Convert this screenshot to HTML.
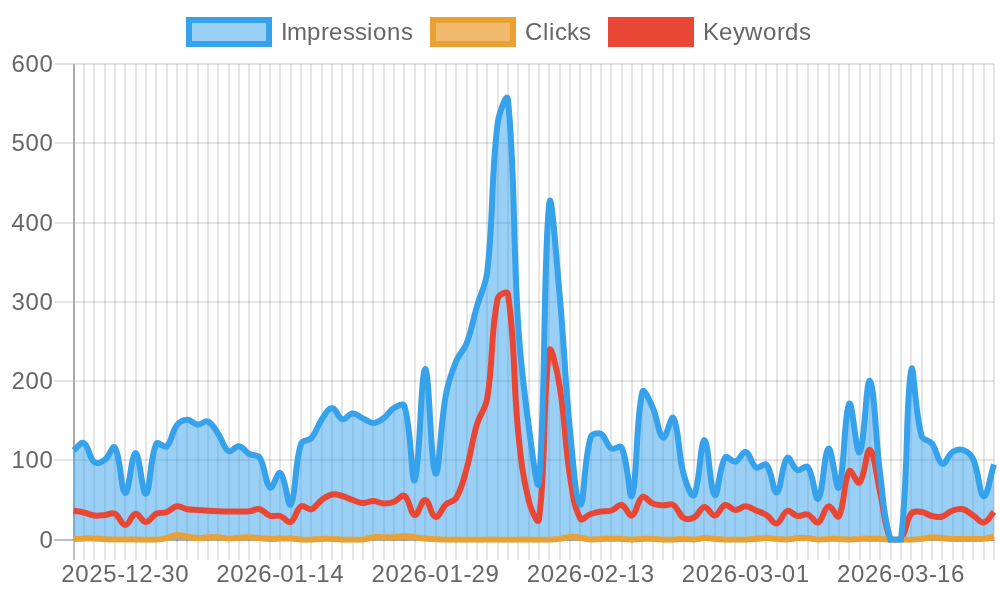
<!DOCTYPE html>
<html><head><meta charset="utf-8"><title>Chart</title>
<style>
html,body{margin:0;padding:0;background:#fff;}
body{width:1000px;height:600px;overflow:hidden;}
svg{display:block;}
svg text{font-family:"Liberation Sans",Arial,Helvetica,sans-serif;font-size:24px;fill:#666;}
</style></head><body>
<svg width="1000" height="600" viewBox="0 0 1000 600">
<rect width="1000" height="600" fill="#fff"/>
<g shape-rendering="crispEdges">
<path d="M84,64V560 M94,64V560 M105,64V560 M115,64V560 M125,64V560 M136,64V560 M146,64V560 M156,64V560 M167,64V560 M177,64V560 M187,64V560 M198,64V560 M208,64V560 M218,64V560 M229,64V560 M239,64V560 M249,64V560 M260,64V560 M270,64V560 M280,64V560 M291,64V560 M301,64V560 M311,64V560 M322,64V560 M332,64V560 M342,64V560 M353,64V560 M363,64V560 M373,64V560 M384,64V560 M394,64V560 M404,64V560 M415,64V560 M425,64V560 M436,64V560 M446,64V560 M456,64V560 M467,64V560 M477,64V560 M487,64V560 M498,64V560 M508,64V560 M518,64V560 M529,64V560 M539,64V560 M549,64V560 M560,64V560 M570,64V560 M580,64V560 M591,64V560 M601,64V560 M611,64V560 M622,64V560 M632,64V560 M642,64V560 M653,64V560 M663,64V560 M673,64V560 M684,64V560 M694,64V560 M704,64V560 M715,64V560 M725,64V560 M735,64V560 M746,64V560 M756,64V560 M766,64V560 M777,64V560 M787,64V560 M797,64V560 M808,64V560 M818,64V560 M829,64V560 M839,64V560 M849,64V560 M860,64V560 M870,64V560 M880,64V560 M891,64V560 M901,64V560 M911,64V560 M922,64V560 M932,64V560 M942,64V560 M953,64V560 M963,64V560 M973,64V560 M984,64V560 M994,64V560" stroke="rgba(0,0,0,0.1)" stroke-width="2" fill="none"/>
<path d="M84,539V541 M94,539V541 M105,539V541 M115,539V541 M125,539V541 M136,539V541 M146,539V541 M156,539V541 M167,539V541 M177,539V541 M187,539V541 M198,539V541 M208,539V541 M218,539V541 M229,539V541 M239,539V541 M249,539V541 M260,539V541 M270,539V541 M280,539V541 M291,539V541 M301,539V541 M311,539V541 M322,539V541 M332,539V541 M342,539V541 M353,539V541 M363,539V541 M373,539V541 M384,539V541 M394,539V541 M404,539V541 M415,539V541 M425,539V541 M436,539V541 M446,539V541 M456,539V541 M467,539V541 M477,539V541 M487,539V541 M498,539V541 M508,539V541 M518,539V541 M529,539V541 M539,539V541 M549,539V541 M560,539V541 M570,539V541 M580,539V541 M591,539V541 M601,539V541 M611,539V541 M622,539V541 M632,539V541 M642,539V541 M653,539V541 M663,539V541 M673,539V541 M684,539V541 M694,539V541 M704,539V541 M715,539V541 M725,539V541 M735,539V541 M746,539V541 M756,539V541 M766,539V541 M777,539V541 M787,539V541 M797,539V541 M808,539V541 M818,539V541 M829,539V541 M839,539V541 M849,539V541 M860,539V541 M870,539V541 M880,539V541 M891,539V541 M901,539V541 M911,539V541 M922,539V541 M932,539V541 M942,539V541 M953,539V541 M963,539V541 M973,539V541 M984,539V541 M994,539V541" stroke="rgba(0,0,0,0.1)" stroke-width="2" fill="none"/>
<path d="M73,540H994" stroke="rgba(0,0,0,0.1)" stroke-width="2" fill="none"/>
<path d="M74,64V560" stroke="rgba(0,0,0,0.25)" stroke-width="2" fill="none"/>
<path d="M53.52,540H73M75,540H994" stroke="rgba(0,0,0,0.25)" stroke-width="2" fill="none"/>
<path d="M53.52,460H73M75,460H994" stroke="rgba(0,0,0,0.1)" stroke-width="2" fill="none"/>
<path d="M53.52,381H73M75,381H994" stroke="rgba(0,0,0,0.1)" stroke-width="2" fill="none"/>
<path d="M53.52,302H73M75,302H994" stroke="rgba(0,0,0,0.1)" stroke-width="2" fill="none"/>
<path d="M53.52,223H73M75,223H994" stroke="rgba(0,0,0,0.1)" stroke-width="2" fill="none"/>
<path d="M53.52,143H73M75,143H994" stroke="rgba(0,0,0,0.1)" stroke-width="2" fill="none"/>
<path d="M53.52,64H73M75,64H994" stroke="rgba(0,0,0,0.1)" stroke-width="2" fill="none"/>
<path d="M74,63V541" stroke="rgba(0,0,0,0.1)" stroke-width="2" fill="none"/>
</g>
<defs>
<clipPath id="ca"><rect x="73.52" y="64.00" width="920.48" height="475.68"/></clipPath>
<clipPath id="cl"><rect x="70.52" y="61.00" width="926.48" height="481.68"/></clipPath>
</defs>
<g clip-path="url(#ca)">
<path d="M73.52,539.13C77.66,538.87 79.72,538.63 83.86,538.49C88.00,538.35 90.07,538.28 94.20,538.41C98.35,538.54 100.41,538.92 104.55,539.13C108.68,539.33 110.75,539.36 114.89,539.44C119.03,539.52 121.10,539.47 125.23,539.52C129.37,539.57 131.44,539.65 135.57,539.68C139.71,539.68 141.78,539.68 145.92,539.68C150.05,539.68 152.15,539.68 156.26,539.68C160.42,539.36 162.53,539.03 166.60,538.09C170.81,537.13 172.74,535.25 176.94,534.92C181.01,534.61 183.15,535.87 187.29,536.51C191.42,537.14 193.47,537.94 197.63,538.09C201.75,538.25 203.83,537.46 207.97,537.30C212.10,537.14 214.19,537.06 218.31,537.30C222.47,537.54 224.51,538.41 228.66,538.49C232.79,538.57 234.86,537.94 239.00,537.70C243.13,537.46 245.21,537.22 249.34,537.30C253.48,537.38 255.55,537.78 259.68,538.09C263.82,538.41 265.89,538.81 270.03,538.89C274.16,538.97 276.23,538.57 280.37,538.49C284.50,538.41 286.59,538.25 290.71,538.49C294.86,538.73 296.90,539.44 301.05,539.68C305.18,539.68 307.27,539.68 311.40,539.68C315.54,539.52 317.60,539.05 321.74,538.89C325.87,538.73 327.95,538.73 332.08,538.89C336.22,539.05 338.28,539.52 342.42,539.68C346.56,539.68 348.63,539.68 352.77,539.68C356.90,539.68 359.03,539.68 363.11,539.68C367.30,539.20 369.26,537.78 373.45,537.30C377.54,536.83 379.66,537.30 383.79,537.30C387.93,537.30 390.01,537.54 394.14,537.30C398.29,537.06 400.34,536.11 404.48,536.11C408.62,536.11 410.68,536.83 414.82,537.30C418.96,537.78 421.02,538.09 425.16,538.49C429.29,538.89 431.36,539.05 435.51,539.28C439.64,539.52 441.71,539.60 445.85,539.68C449.98,539.68 452.05,539.68 456.19,539.68C460.33,539.68 462.40,539.68 466.53,539.68C470.67,539.68 472.74,539.68 476.88,539.68C481.01,539.68 483.08,539.68 487.22,539.68C491.36,539.68 493.42,539.68 497.56,539.68C501.70,539.68 503.77,539.68 507.90,539.68C512.04,539.68 514.11,539.68 518.25,539.68C522.38,539.68 524.45,539.68 528.59,539.68C532.73,539.68 534.79,539.68 538.93,539.68C543.07,539.68 545.14,539.68 549.27,539.68C553.42,539.52 555.51,539.44 559.62,538.89C563.78,538.33 565.79,537.14 569.96,536.91C574.06,536.67 576.20,537.15 580.30,537.70C584.47,538.26 586.48,539.44 590.64,539.68C594.75,539.68 596.84,539.05 600.99,538.89C605.12,538.73 607.19,538.89 611.33,538.89C615.47,538.89 617.54,538.73 621.67,538.89C625.81,539.05 627.88,539.68 632.01,539.68C636.15,539.68 638.21,539.05 642.36,538.89C646.49,538.73 648.57,538.73 652.70,538.89C656.84,539.05 658.90,539.52 663.04,539.68C667.17,539.68 669.25,539.68 673.38,539.68C677.53,539.52 679.59,538.89 683.73,538.89C687.86,538.89 689.95,539.68 694.07,539.68C698.22,539.52 700.26,538.25 704.41,538.09C708.53,537.94 710.62,538.57 714.75,538.89C718.89,539.20 720.95,539.52 725.10,539.68C729.23,539.68 731.30,539.68 735.44,539.68C739.58,539.68 741.65,539.68 745.78,539.68C749.92,539.52 751.99,539.20 756.12,538.89C760.26,538.57 762.33,538.09 766.47,538.09C770.60,538.09 772.67,538.57 776.81,538.89C780.95,539.20 783.03,539.68 787.15,539.68C791.31,539.52 793.33,538.41 797.49,538.09C801.61,537.78 803.72,537.78 807.84,538.09C812.00,538.41 814.02,539.52 818.18,539.68C822.30,539.68 824.38,539.05 828.52,538.89C832.65,538.73 834.73,538.73 838.86,538.89C843.01,539.05 845.07,539.68 849.21,539.68C853.34,539.68 855.40,539.05 859.55,538.89C863.68,538.73 865.75,538.89 869.89,538.89C874.03,538.89 876.10,538.73 880.23,538.89C884.38,539.05 886.43,539.52 890.58,539.68C894.71,539.68 896.78,539.68 900.92,539.68C905.05,539.68 907.13,539.68 911.26,539.68C915.40,539.52 917.48,539.36 921.60,538.89C925.76,538.41 927.79,537.46 931.95,537.30C936.06,537.14 938.15,537.78 942.29,538.09C946.42,538.41 948.49,538.73 952.63,538.89C956.76,539.05 958.84,538.89 962.97,538.89C967.11,538.89 969.18,538.89 973.32,538.89C977.45,538.89 979.57,539.36 983.66,538.89C987.85,538.41 989.86,537.46 994.00,536.51L994.00,539.68 L73.52,539.68 Z" fill="#f0b96b"/>
<path d="M73.52,450.50C77.66,447.50 80.79,441.29 83.86,443.00C89.06,445.89 88.64,457.43 94.20,462.00C96.91,464.23 101.29,462.28 104.55,460.00C109.56,456.48 112.76,444.09 114.89,447.50C121.03,457.29 120.84,491.83 125.23,493.00C129.12,494.03 131.47,452.85 135.57,453.00C139.75,453.15 142.18,495.42 145.92,493.75C150.45,491.72 149.42,459.38 156.26,443.75C157.69,440.48 164.04,448.82 166.60,446.50C172.31,441.32 171.38,432.20 176.94,425.00C179.65,421.50 183.11,419.85 187.29,419.75C191.39,419.65 193.38,424.14 197.63,424.50C201.65,424.84 204.67,419.98 207.97,421.50C212.95,423.78 214.62,428.69 218.31,434.00C222.89,440.59 223.39,448.13 228.66,451.25C231.66,453.03 235.11,445.73 239.00,446.25C243.38,446.83 244.86,451.56 249.34,454.00C253.13,456.06 257.57,454.07 259.68,457.50C265.84,467.47 264.73,483.53 270.03,487.50C273.00,489.73 277.48,470.62 280.37,473.00C285.75,477.42 287.82,508.59 290.71,504.50C296.09,496.89 294.11,466.06 301.05,443.75C302.39,439.46 308.43,441.48 311.40,438.00C316.71,431.78 316.96,426.44 321.74,419.50C325.23,414.44 327.92,408.05 332.08,408.00C336.19,407.95 337.76,418.01 342.42,419.25C346.04,420.21 348.57,413.65 352.77,413.50C356.84,413.35 358.93,416.58 363.11,418.50C367.21,420.38 369.35,423.10 373.45,423.00C377.63,422.90 380.15,420.69 383.79,418.00C388.42,414.59 389.33,410.54 394.14,407.75C397.60,405.74 403.46,402.44 404.48,406.00C411.73,431.34 411.50,485.94 414.82,480.00C419.78,471.14 420.90,370.34 425.16,369.00C429.18,367.74 430.79,467.57 435.51,473.50C439.06,477.97 440.14,426.06 445.85,395.00C448.41,381.06 450.93,374.10 456.19,361.00C459.20,353.50 463.67,351.04 466.53,343.50C471.94,329.24 472.61,321.26 476.88,306.50C480.88,292.66 485.60,286.26 487.22,272.00C493.88,213.26 490.55,182.51 497.56,124.00C498.82,113.51 507.04,91.02 507.90,99.50C515.31,171.82 512.50,235.52 518.25,326.00C520.77,365.72 523.36,385.56 528.59,425.00C531.63,447.96 537.51,497.25 538.93,482.00C545.78,408.65 543.05,259.72 549.27,203.50C551.33,184.92 556.27,258.33 559.62,295.00C564.54,348.93 564.64,376.13 569.96,430.00C572.91,459.93 575.95,502.92 580.30,504.50C584.22,505.92 583.52,461.79 590.64,437.50C591.79,433.59 597.84,432.33 600.99,434.00C606.12,436.73 606.10,445.09 611.33,448.50C614.38,450.49 620.23,444.22 621.67,447.50C628.50,463.02 629.36,502.62 632.01,495.50C637.63,480.42 635.34,421.85 642.36,392.00C643.61,386.65 649.64,400.77 652.70,407.50C657.91,418.97 658.16,435.02 663.04,437.50C666.44,439.22 671.09,413.89 673.38,418.00C679.36,428.69 677.81,452.50 683.73,474.50C686.09,483.30 691.66,499.01 694.07,495.00C699.94,485.21 700.27,440.00 704.41,440.00C708.55,440.00 709.87,490.87 714.75,495.00C718.15,497.87 718.66,467.93 725.10,457.50C726.93,454.53 731.79,462.47 735.44,461.50C740.06,460.27 742.22,450.97 745.78,452.00C750.50,453.37 750.87,464.26 756.12,467.50C759.14,469.36 764.27,462.10 766.47,464.75C772.54,472.10 773.07,493.72 776.81,492.50C781.35,491.02 781.40,464.25 787.15,458.00C789.68,455.25 792.57,467.86 797.49,470.00C800.84,471.46 805.82,464.20 807.84,467.00C814.09,475.70 814.91,501.64 818.18,498.75C823.18,494.34 823.89,451.27 828.52,448.75C832.16,446.77 836.20,493.30 838.86,487.50C844.47,475.30 844.00,412.55 849.21,403.75C852.28,398.55 856.17,456.21 859.55,452.50C864.44,447.11 866.31,377.10 869.89,381.00C874.58,386.10 875.34,437.50 880.23,475.00C883.62,500.97 883.43,517.34 890.58,539.68C891.70,539.68 900.44,539.68 900.92,539.68C908.72,475.70 905.32,399.77 911.26,370.00C913.59,358.30 914.66,411.32 921.60,436.00C922.93,440.72 928.97,439.51 931.95,443.50C937.24,450.61 937.39,461.74 942.29,463.75C945.66,465.14 947.68,455.29 952.63,452.00C955.96,449.79 959.43,448.71 962.97,450.00C967.70,451.71 971.09,454.52 973.32,459.50C979.36,473.02 979.24,495.18 983.66,496.25C987.52,497.18 989.86,477.20 994.00,464.50L994.00,539.68 L73.52,539.68 Z" fill="rgba(54,162,235,0.5)"/>
</g>
<g clip-path="url(#cl)" fill="none" stroke-width="6" stroke-linecap="butt" stroke-linejoin="miter">
<path d="M73.52,510.75C77.66,511.45 79.78,511.56 83.86,512.50C88.05,513.46 89.99,514.99 94.20,515.50C98.26,515.99 100.42,515.35 104.55,515.00C108.70,514.65 111.54,512.13 114.89,513.75C119.81,516.13 121.10,525.00 125.23,525.00C129.37,525.00 131.14,514.39 135.57,513.75C139.41,513.19 141.78,522.00 145.92,522.00C150.05,522.00 151.64,515.98 156.26,513.75C159.92,511.98 162.71,513.41 166.60,512.00C170.99,510.41 172.61,506.83 176.94,506.25C180.89,505.73 183.07,508.49 187.29,509.25C191.35,509.99 193.49,509.70 197.63,510.00C201.77,510.30 203.83,510.50 207.97,510.75C212.11,511.00 214.18,511.10 218.31,511.25C222.45,511.40 224.52,511.45 228.66,511.50C232.79,511.55 234.86,511.55 239.00,511.50C243.14,511.45 245.24,511.70 249.34,511.25C253.52,510.80 255.85,508.42 259.68,509.25C264.13,510.22 265.55,514.29 270.03,515.75C273.82,516.99 276.53,514.84 280.37,516.00C284.81,517.34 287.50,523.51 290.71,522.00C295.77,519.61 295.79,509.50 301.05,506.25C304.06,504.40 307.78,510.34 311.40,509.25C316.06,507.84 317.25,503.20 321.74,500.00C325.53,497.30 327.71,495.35 332.08,494.50C335.98,493.75 338.41,494.93 342.42,496.00C346.68,497.13 348.57,498.58 352.77,500.00C356.84,501.38 358.93,502.80 363.11,503.00C367.20,503.20 369.34,500.90 373.45,501.00C377.61,501.10 379.63,503.35 383.79,503.50C387.90,503.65 390.27,503.20 394.14,501.75C398.54,500.10 401.55,493.88 404.48,495.75C409.83,499.18 410.31,514.07 414.82,515.00C418.58,515.77 421.21,499.62 425.16,500.00C429.48,500.42 430.95,516.01 435.51,517.00C439.22,517.81 441.13,508.84 445.85,504.50C449.40,501.24 453.84,502.03 456.19,498.00C462.12,487.83 463.20,480.84 466.53,469.00C471.48,451.44 471.75,441.99 476.88,424.50C480.02,413.79 485.41,409.47 487.22,398.50C493.68,359.27 490.14,336.49 497.56,299.00C498.41,294.69 507.27,289.92 507.90,294.00C515.55,343.52 512.68,377.56 518.25,433.00C520.95,459.96 522.35,473.90 528.59,500.00C530.62,508.50 537.97,526.39 538.93,519.50C546.25,466.79 542.47,394.91 549.27,351.00C550.74,341.51 557.24,371.64 559.62,386.00C565.51,421.64 564.38,440.26 569.96,476.00C572.65,493.26 573.72,506.42 580.30,518.50C582.00,521.62 586.39,515.44 590.64,514.00C594.66,512.64 596.80,512.21 600.99,511.50C605.07,510.81 607.44,511.72 611.33,510.50C615.71,509.12 618.01,504.11 621.67,505.00C626.28,506.11 628.62,516.81 632.01,515.50C636.89,513.61 637.11,500.05 642.36,497.00C645.38,495.25 648.25,501.72 652.70,503.50C656.52,505.02 658.88,504.95 663.04,505.25C667.15,505.55 670.21,503.04 673.38,505.00C678.48,508.14 678.63,514.92 683.73,518.00C686.90,519.92 690.65,519.32 694.07,517.50C698.93,514.92 700.08,507.42 704.41,507.00C708.35,506.62 710.82,515.88 714.75,515.50C719.09,515.08 720.45,506.24 725.10,505.00C728.72,504.04 731.21,509.74 735.44,510.00C739.49,510.24 741.68,506.15 745.78,506.25C749.95,506.35 752.00,508.76 756.12,510.50C760.28,512.26 762.68,512.62 766.47,515.00C770.96,517.82 773.07,524.22 776.81,523.50C781.34,522.62 782.31,512.76 787.15,511.00C790.58,509.76 793.16,515.27 797.49,516.00C801.43,516.67 804.16,513.35 807.84,514.50C812.43,515.95 814.83,523.83 818.18,522.50C823.11,520.53 823.78,507.68 828.52,506.25C832.06,505.18 836.90,519.58 838.86,516.25C845.17,505.58 842.99,481.39 849.21,471.25C851.26,467.89 856.99,485.13 859.55,482.50C865.26,476.63 866.29,448.17 869.89,450.00C874.56,452.37 876.26,475.76 880.23,493.00C884.53,511.63 883.78,524.56 890.58,539.68C892.05,539.68 898.65,539.68 900.92,539.00C906.93,531.39 905.26,521.33 911.26,513.50C913.54,510.53 917.59,511.51 921.60,512.00C925.86,512.51 927.67,515.07 931.95,516.00C935.94,516.87 938.45,517.52 942.29,516.50C946.72,515.32 948.21,512.05 952.63,510.50C956.48,509.15 959.14,508.32 962.97,509.25C967.42,510.32 969.25,512.89 973.32,515.50C977.52,518.19 979.86,523.14 983.66,522.50C988.14,521.74 989.86,516.20 994.00,512.00" stroke="#e94735"/>
<path d="M73.52,539.13C77.66,538.87 79.72,538.63 83.86,538.49C88.00,538.35 90.07,538.28 94.20,538.41C98.35,538.54 100.41,538.92 104.55,539.13C108.68,539.33 110.75,539.36 114.89,539.44C119.03,539.52 121.10,539.47 125.23,539.52C129.37,539.57 131.44,539.65 135.57,539.68C139.71,539.68 141.78,539.68 145.92,539.68C150.05,539.68 152.15,539.68 156.26,539.68C160.42,539.36 162.53,539.03 166.60,538.09C170.81,537.13 172.74,535.25 176.94,534.92C181.01,534.61 183.15,535.87 187.29,536.51C191.42,537.14 193.47,537.94 197.63,538.09C201.75,538.25 203.83,537.46 207.97,537.30C212.10,537.14 214.19,537.06 218.31,537.30C222.47,537.54 224.51,538.41 228.66,538.49C232.79,538.57 234.86,537.94 239.00,537.70C243.13,537.46 245.21,537.22 249.34,537.30C253.48,537.38 255.55,537.78 259.68,538.09C263.82,538.41 265.89,538.81 270.03,538.89C274.16,538.97 276.23,538.57 280.37,538.49C284.50,538.41 286.59,538.25 290.71,538.49C294.86,538.73 296.90,539.44 301.05,539.68C305.18,539.68 307.27,539.68 311.40,539.68C315.54,539.52 317.60,539.05 321.74,538.89C325.87,538.73 327.95,538.73 332.08,538.89C336.22,539.05 338.28,539.52 342.42,539.68C346.56,539.68 348.63,539.68 352.77,539.68C356.90,539.68 359.03,539.68 363.11,539.68C367.30,539.20 369.26,537.78 373.45,537.30C377.54,536.83 379.66,537.30 383.79,537.30C387.93,537.30 390.01,537.54 394.14,537.30C398.29,537.06 400.34,536.11 404.48,536.11C408.62,536.11 410.68,536.83 414.82,537.30C418.96,537.78 421.02,538.09 425.16,538.49C429.29,538.89 431.36,539.05 435.51,539.28C439.64,539.52 441.71,539.60 445.85,539.68C449.98,539.68 452.05,539.68 456.19,539.68C460.33,539.68 462.40,539.68 466.53,539.68C470.67,539.68 472.74,539.68 476.88,539.68C481.01,539.68 483.08,539.68 487.22,539.68C491.36,539.68 493.42,539.68 497.56,539.68C501.70,539.68 503.77,539.68 507.90,539.68C512.04,539.68 514.11,539.68 518.25,539.68C522.38,539.68 524.45,539.68 528.59,539.68C532.73,539.68 534.79,539.68 538.93,539.68C543.07,539.68 545.14,539.68 549.27,539.68C553.42,539.52 555.51,539.44 559.62,538.89C563.78,538.33 565.79,537.14 569.96,536.91C574.06,536.67 576.20,537.15 580.30,537.70C584.47,538.26 586.48,539.44 590.64,539.68C594.75,539.68 596.84,539.05 600.99,538.89C605.12,538.73 607.19,538.89 611.33,538.89C615.47,538.89 617.54,538.73 621.67,538.89C625.81,539.05 627.88,539.68 632.01,539.68C636.15,539.68 638.21,539.05 642.36,538.89C646.49,538.73 648.57,538.73 652.70,538.89C656.84,539.05 658.90,539.52 663.04,539.68C667.17,539.68 669.25,539.68 673.38,539.68C677.53,539.52 679.59,538.89 683.73,538.89C687.86,538.89 689.95,539.68 694.07,539.68C698.22,539.52 700.26,538.25 704.41,538.09C708.53,537.94 710.62,538.57 714.75,538.89C718.89,539.20 720.95,539.52 725.10,539.68C729.23,539.68 731.30,539.68 735.44,539.68C739.58,539.68 741.65,539.68 745.78,539.68C749.92,539.52 751.99,539.20 756.12,538.89C760.26,538.57 762.33,538.09 766.47,538.09C770.60,538.09 772.67,538.57 776.81,538.89C780.95,539.20 783.03,539.68 787.15,539.68C791.31,539.52 793.33,538.41 797.49,538.09C801.61,537.78 803.72,537.78 807.84,538.09C812.00,538.41 814.02,539.52 818.18,539.68C822.30,539.68 824.38,539.05 828.52,538.89C832.65,538.73 834.73,538.73 838.86,538.89C843.01,539.05 845.07,539.68 849.21,539.68C853.34,539.68 855.40,539.05 859.55,538.89C863.68,538.73 865.75,538.89 869.89,538.89C874.03,538.89 876.10,538.73 880.23,538.89C884.38,539.05 886.43,539.52 890.58,539.68C894.71,539.68 896.78,539.68 900.92,539.68C905.05,539.68 907.13,539.68 911.26,539.68C915.40,539.52 917.48,539.36 921.60,538.89C925.76,538.41 927.79,537.46 931.95,537.30C936.06,537.14 938.15,537.78 942.29,538.09C946.42,538.41 948.49,538.73 952.63,538.89C956.76,539.05 958.84,538.89 962.97,538.89C967.11,538.89 969.18,538.89 973.32,538.89C977.45,538.89 979.57,539.36 983.66,538.89C987.85,538.41 989.86,537.46 994.00,536.51" stroke="#e9a035"/>
<path d="M73.52,450.50C77.66,447.50 80.79,441.29 83.86,443.00C89.06,445.89 88.64,457.43 94.20,462.00C96.91,464.23 101.29,462.28 104.55,460.00C109.56,456.48 112.76,444.09 114.89,447.50C121.03,457.29 120.84,491.83 125.23,493.00C129.12,494.03 131.47,452.85 135.57,453.00C139.75,453.15 142.18,495.42 145.92,493.75C150.45,491.72 149.42,459.38 156.26,443.75C157.69,440.48 164.04,448.82 166.60,446.50C172.31,441.32 171.38,432.20 176.94,425.00C179.65,421.50 183.11,419.85 187.29,419.75C191.39,419.65 193.38,424.14 197.63,424.50C201.65,424.84 204.67,419.98 207.97,421.50C212.95,423.78 214.62,428.69 218.31,434.00C222.89,440.59 223.39,448.13 228.66,451.25C231.66,453.03 235.11,445.73 239.00,446.25C243.38,446.83 244.86,451.56 249.34,454.00C253.13,456.06 257.57,454.07 259.68,457.50C265.84,467.47 264.73,483.53 270.03,487.50C273.00,489.73 277.48,470.62 280.37,473.00C285.75,477.42 287.82,508.59 290.71,504.50C296.09,496.89 294.11,466.06 301.05,443.75C302.39,439.46 308.43,441.48 311.40,438.00C316.71,431.78 316.96,426.44 321.74,419.50C325.23,414.44 327.92,408.05 332.08,408.00C336.19,407.95 337.76,418.01 342.42,419.25C346.04,420.21 348.57,413.65 352.77,413.50C356.84,413.35 358.93,416.58 363.11,418.50C367.21,420.38 369.35,423.10 373.45,423.00C377.63,422.90 380.15,420.69 383.79,418.00C388.42,414.59 389.33,410.54 394.14,407.75C397.60,405.74 403.46,402.44 404.48,406.00C411.73,431.34 411.50,485.94 414.82,480.00C419.78,471.14 420.90,370.34 425.16,369.00C429.18,367.74 430.79,467.57 435.51,473.50C439.06,477.97 440.14,426.06 445.85,395.00C448.41,381.06 450.93,374.10 456.19,361.00C459.20,353.50 463.67,351.04 466.53,343.50C471.94,329.24 472.61,321.26 476.88,306.50C480.88,292.66 485.60,286.26 487.22,272.00C493.88,213.26 490.55,182.51 497.56,124.00C498.82,113.51 507.04,91.02 507.90,99.50C515.31,171.82 512.50,235.52 518.25,326.00C520.77,365.72 523.36,385.56 528.59,425.00C531.63,447.96 537.51,497.25 538.93,482.00C545.78,408.65 543.05,259.72 549.27,203.50C551.33,184.92 556.27,258.33 559.62,295.00C564.54,348.93 564.64,376.13 569.96,430.00C572.91,459.93 575.95,502.92 580.30,504.50C584.22,505.92 583.52,461.79 590.64,437.50C591.79,433.59 597.84,432.33 600.99,434.00C606.12,436.73 606.10,445.09 611.33,448.50C614.38,450.49 620.23,444.22 621.67,447.50C628.50,463.02 629.36,502.62 632.01,495.50C637.63,480.42 635.34,421.85 642.36,392.00C643.61,386.65 649.64,400.77 652.70,407.50C657.91,418.97 658.16,435.02 663.04,437.50C666.44,439.22 671.09,413.89 673.38,418.00C679.36,428.69 677.81,452.50 683.73,474.50C686.09,483.30 691.66,499.01 694.07,495.00C699.94,485.21 700.27,440.00 704.41,440.00C708.55,440.00 709.87,490.87 714.75,495.00C718.15,497.87 718.66,467.93 725.10,457.50C726.93,454.53 731.79,462.47 735.44,461.50C740.06,460.27 742.22,450.97 745.78,452.00C750.50,453.37 750.87,464.26 756.12,467.50C759.14,469.36 764.27,462.10 766.47,464.75C772.54,472.10 773.07,493.72 776.81,492.50C781.35,491.02 781.40,464.25 787.15,458.00C789.68,455.25 792.57,467.86 797.49,470.00C800.84,471.46 805.82,464.20 807.84,467.00C814.09,475.70 814.91,501.64 818.18,498.75C823.18,494.34 823.89,451.27 828.52,448.75C832.16,446.77 836.20,493.30 838.86,487.50C844.47,475.30 844.00,412.55 849.21,403.75C852.28,398.55 856.17,456.21 859.55,452.50C864.44,447.11 866.31,377.10 869.89,381.00C874.58,386.10 875.34,437.50 880.23,475.00C883.62,500.97 883.43,517.34 890.58,539.68C891.70,539.68 900.44,539.68 900.92,539.68C908.72,475.70 905.32,399.77 911.26,370.00C913.59,358.30 914.66,411.32 921.60,436.00C922.93,440.72 928.97,439.51 931.95,443.50C937.24,450.61 937.39,461.74 942.29,463.75C945.66,465.14 947.68,455.29 952.63,452.00C955.96,449.79 959.43,448.71 962.97,450.00C967.70,451.71 971.09,454.52 973.32,459.50C979.36,473.02 979.24,495.18 983.66,496.25C987.52,497.18 989.86,477.20 994.00,464.50" stroke="#36a2eb"/>
</g>
<g>
<text x="39.52" y="547.68">0</text>
<text x="11.52 25.52 39.52" y="468.40">100</text>
<text x="11.52 25.52 39.52" y="389.12">200</text>
<text x="11.52 25.52 39.52" y="309.84">300</text>
<text x="11.52 25.52 39.52" y="230.56">400</text>
<text x="11.52 25.52 39.52" y="151.28">500</text>
<text x="11.52 25.52 39.52" y="72.00">600</text>
<text x="61.23 75.23 89.23 103.23 117.23 125.23 139.23 153.23 161.23 175.23" y="582.08">2025-12-30</text>
<text x="216.37 230.37 244.37 258.37 272.37 280.37 294.37 308.37 316.37 330.37" y="582.08">2026-01-14</text>
<text x="371.51 385.51 399.51 413.51 427.51 435.51 449.51 463.51 471.51 485.51" y="582.08">2026-01-29</text>
<text x="526.64 540.64 554.64 568.64 582.64 590.64 604.64 618.64 626.64 640.64" y="582.08">2026-02-13</text>
<text x="681.78 695.78 709.78 723.78 737.78 745.78 759.78 773.78 781.78 795.78" y="582.08">2026-03-01</text>
<text x="836.92 850.92 864.92 878.92 892.92 900.92 914.92 928.92 936.92 950.92" y="582.08">2026-03-16</text>
</g>
<g>
<rect x="189" y="20" width="80" height="24" fill="rgba(54,162,235,0.5)" stroke="#36a2eb" stroke-width="6"/>
<text x="281 287 307 321 329 343 355 367 373 387 401" y="40.00">Impressions</text>
<rect x="433" y="20" width="80" height="24" fill="#f0b96b" stroke="#e9a035" stroke-width="6"/>
<text x="525 543 549 555 567 579" y="40.00">Clicks</text>
<rect x="611" y="20" width="80" height="24" fill="#e94735" stroke="#e94735" stroke-width="6"/>
<text x="703 719 733 745 763 777 785 799" y="40.00">Keywords</text>
</g>
</svg>
</body></html>
